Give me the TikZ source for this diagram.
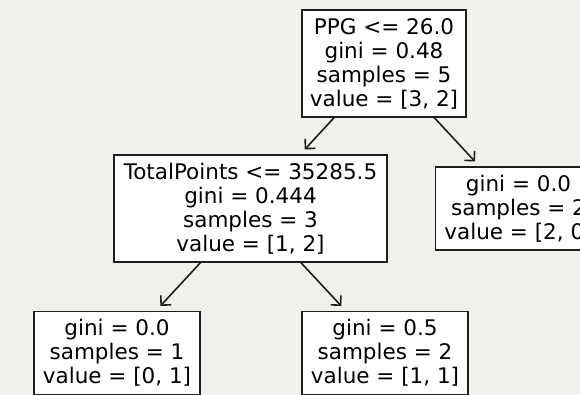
\documentclass[tikz,border=0pt]{standalone}
\usepackage{fontspec}
\setmainfont{DejaVu Sans}
\usetikzlibrary{arrows.meta}
\definecolor{canvas}{RGB}{240,240,236}
\definecolor{ink}{RGB}{30,30,30}
\tikzset{
  treenode/.style={draw=ink, line width=1.5pt, fill=white, rectangle,
    inner sep=0pt, outer sep=0pt, align=center, text=black,
    font=\fontsize{21.5}{24}\selectfont, minimum width=#1},
  tall/.style={minimum height=107pt},
  short/.style={minimum height=83pt},
  edge/.style={draw=ink, line width=1.6pt, shorten >=7.5pt,
    -{Straight Barb[length=7pt,width=14pt,line width=1.6pt]}}
}
\begin{document}
\begin{tikzpicture}[x=1pt,y=-1pt]
  \useasboundingbox (0,0) rectangle (580,395);
  \fill[canvas] (0,0) rectangle (580,395);
  \clip (0,0) rectangle (580,395);

  % split nodes
  \node[treenode=164pt, tall] (root) at (384,63.5)
    {PPG <= 26.0\\gini = 0.48\\samples = 5\\value = [3, 2]};
  \node[treenode=273pt, tall] (split) at (250.5,208.5)
    {TotalPoints <= 35285.5\\gini = 0.444\\samples = 3\\value = [1, 2]};

  % leaves
  \node[treenode=166pt, short] (leafR) at (518.5,208.5)
    {gini = 0.0\\samples = 2\\value = [2, 0]};
  \node[treenode=166pt, short] (leafA) at (117,353)
    {gini = 0.0\\samples = 1\\value = [0, 1]};
  \node[treenode=166pt, short] (leafB) at (385,353)
    {gini = 0.5\\samples = 2\\value = [1, 1]};

  % edges
  \draw[edge] (root) -- (split);
  \draw[edge] (root) -- (leafR);
  \draw[edge] (split) -- (leafA);
  \draw[edge] (split) -- (leafB);
\end{tikzpicture}
\end{document}
